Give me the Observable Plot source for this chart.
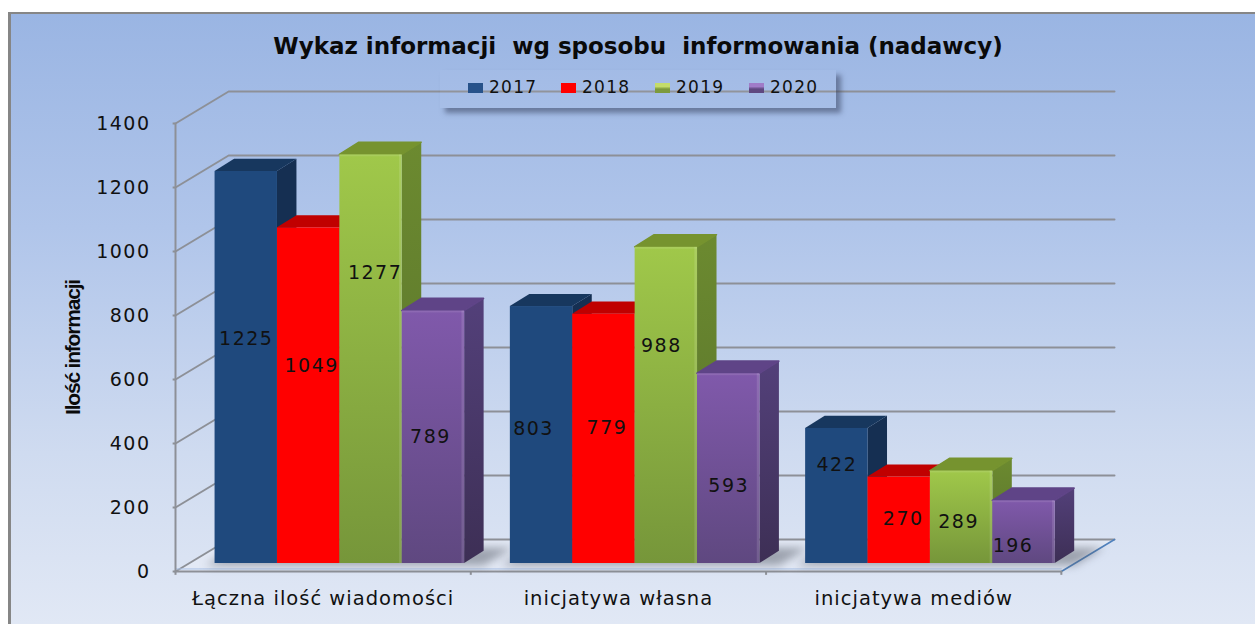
<!DOCTYPE html>
<html lang="pl">
<head>
<meta charset="utf-8">
<title>Wykaz informacji</title>
<script src="https://cdn.jsdelivr.net/npm/d3@7"></script>
<script src="https://cdn.jsdelivr.net/npm/@observablehq/plot@0.6"></script>
<style>
  html, body { margin: 0; padding: 0; background: #fff; width: 1255px; height: 624px; overflow: hidden; }
  #panel { position: absolute; left: 8px; top: 12px; right: 0; bottom: 0; box-sizing: border-box;
    border-left: 3px solid #868686; border-top: 2px solid #868686;
    background: linear-gradient(#9ab5e3 0%, #b0c5ea 35%, #cfdbf0 72%, #e1e8f5 100%); }
  #chart { position: absolute; left: 0; top: 0; }
  #chart svg { display: block; background: transparent; }
  #legend { position: absolute; left: 440px; top: 70px; width: 396px; height: 38px; box-sizing: border-box;
    background: rgba(255,255,255,.04); box-shadow: 5px 5px 5px rgba(45,55,85,.5);
    font: 17px "DejaVu Sans", sans-serif; color: #111; }
  #legend .it { position: absolute; top: 7px; display: flex; align-items: center; gap: 6px; line-height: 20px; letter-spacing: 1.3px; }
  #legend i { display: block; width: 15px; height: 10px; margin-top: 2px; }
  g[aria-label="y-axis tick label"] text { letter-spacing: 1.5px; }
</style>
</head>
<body>
<svg width="0" height="0" style="position:absolute">
  <defs>
    <linearGradient id="g19" x1="0" y1="0" x2="0" y2="1"><stop offset="0" stop-color="#a0c84a"/><stop offset="1" stop-color="#76963a"/></linearGradient>
    <linearGradient id="g20" x1="0" y1="0" x2="0" y2="1"><stop offset="0" stop-color="#8059ab"/><stop offset="1" stop-color="#5f4880"/></linearGradient>
    <linearGradient id="s19" x1="0" y1="0" x2="0" y2="1"><stop offset="0" stop-color="#6c8a30"/><stop offset="1" stop-color="#56702a"/></linearGradient>
    <linearGradient id="s20" x1="0" y1="0" x2="0" y2="1"><stop offset="0" stop-color="#53407a"/><stop offset="1" stop-color="#3d2f55"/></linearGradient>
  </defs>
</svg>
<div id="panel"></div>
<div id="chart"></div>
<div id="legend"></div>
<script>
const chartTitle = "Wykaz informacji  wg sposobu  informowania (nadawcy)";
const yTitle = "Ilość informacji";
const categories = ["Łączna ilość wiadomości", "inicjatywa własna", "inicjatywa mediów"];
const years = ["2017", "2018", "2019", "2020"];
const values2017 = [1225, 803, 422];
const values2018 = [1049, 779, 270];
const values2019 = [1277, 988, 289];
const values2020 = [789, 593, 196];
const yTicks = [0, 200, 400, 600, 800, 1000, 1200, 1400];

const series = [values2017, values2018, values2019, values2020];

// Appearance of each series: front, top and side faces
const looks = [
  {front: "#1f497d", top: "#17375e", side: "#152f52", key: "#27528a"},
  {front: "#ff0000", top: "#c00000", side: "#a00000", key: "#ff0000"},
  {front: "url(#g19)", top: "#76932f", side: "url(#s19)", key: "linear-gradient(#c4dc6a 0 35%,#7d9a3c 60%)"},
  {front: "url(#g20)", top: "#5f4487", side: "url(#s20)", key: "linear-gradient(#a07cc8 0 35%,#5f4880 60%)"}
];
// Hand placement of the value labels relative to the bar middle, [dx, dy] px, by category then series
const labelNudge = [
  [[0, -29], [3, -30], [4, -86], [-3, 0]],
  [[-8, -6], [3, -11], [-5, -60], [0, 17]],
  [[0, -31], [4, -1], [-3, 5], [-11, 14]]
];

// 3D projection, in data units
const wallX = 0.18, wallY = 100;     // depth of the chart box
const barLift = 25, barShift = 0.134; // how far behind the front edge bars stand
const barW = 0.2113;                 // width of one bar in category units
const depthX = 0.066, depthY = 38;   // depth of a bar

const bars = categories.flatMap((c, ci) => series.map((vals, si) => {
  const x1 = ci + barShift + si * barW;
  return {ci, si, v: vals[ci], x1, x2: x1 + barW, y1: barLift, y2: vals[ci] + barLift};
}));

const grey = "#8d9097";
const area = (pts, o) => Plot.area(pts, {x1: "x1", y1: "y1", x2: "x2", y2: "y2", ...o});

const gridMarks = yTicks.map(t => Plot.line(
  [[0, t], [wallX, t + wallY], [3 + wallX, t + wallY]],
  {stroke: grey, strokeWidth: 2}
));

const shadowMarks = categories.map((c, ci) => {
  const a = ci + barShift - 0.03, b = ci + barShift + 4 * barW + depthX;
  return area(
    [{x1: a, x2: b, y1: barLift - 8, y2: barLift - 8},
     {x1: a + 0.1, x2: b + 0.1, y1: barLift + 48, y2: barLift + 48}],
    {fill: "#565b68", fillOpacity: 0.5, imageFilter: "blur(4px)"}
  );
});

const barMarks = bars.flatMap(b => {
  const look = looks[b.si];
  const rounded = b.si >= 2 ? {stroke: look.top, strokeWidth: 1.5, strokeLinejoin: "round"} : {};
  const marks = [
    area(
      [{x1: b.x2, x2: b.x2, y1: b.y1, y2: b.y2},
       {x1: b.x2 + depthX, x2: b.x2 + depthX, y1: b.y1 + depthY, y2: b.y2 + depthY}],
      {fill: look.side}
    ),
    area(
      [{x1: b.x1, x2: b.x2, y1: b.y2, y2: b.y2},
       {x1: b.x1 + depthX, x2: b.x2 + depthX, y1: b.y2 + depthY, y2: b.y2 + depthY}],
      {fill: look.top, ...rounded}
    ),
    Plot.rect([b], {x1: "x1", x2: "x2", y1: "y1", y2: "y2", fill: look.front})
  ];
  if (b.si >= 2) {
    marks.push(Plot.rect([b], {x1: d => d.x2 - 0.009, x2: "x2", y1: "y1", y2: "y2", fill: "#fff", fillOpacity: 0.12}));
    marks.push(Plot.rect([b], {x1: "x1", x2: "x2", y1: d => d.y2 - 6, y2: "y2", fill: "#fff", fillOpacity: 0.1}));
  }
  return marks;
});

const labelMarks = bars.map(b => Plot.text([b], {
  x: d => (d.x1 + d.x2) / 2,
  y: d => d.v / 2 + barLift,
  text: d => `${d.v}`,
  dx: labelNudge[b.ci][b.si][0],
  dy: labelNudge[b.ci][b.si][1],
  fontFamily: "DejaVu Sans, sans-serif", fontSize: 19, fill: "#111"
}));

const plot = Plot.plot({
  width: 1255, height: 624,
  marginLeft: 175, marginRight: 141, marginTop: 91, marginBottom: 53,
  style: {background: "transparent", overflow: "visible"},
  x: {type: "linear", domain: [0, 3 + wallX], axis: null},
  y: {type: "linear", domain: [0, 1500], axis: null},
  marks: [
    area(
      [{x1: 0, x2: 3, y1: 0, y2: 0}, {x1: wallX, x2: 3 + wallX, y1: wallY, y2: wallY}],
      {fill: "#e6ebf6", fillOpacity: 0.75}
    ),
    ...gridMarks,
    Plot.line([[3, 0], [3 + wallX, wallY]], {stroke: "#4f81bd", strokeWidth: 1.5}),
    Plot.line([[0, 8], [3, 8]], {stroke: "#a9c0e4", strokeWidth: 1}),
    Plot.line([[0, 0], [0, 1400]], {stroke: grey, strokeWidth: 2}),
    Plot.line([[0, 0], [3, 0]], {stroke: grey, strokeWidth: 2}),
    Plot.ruleX([0, 1, 2, 3], {y1: 0, y2: -12, stroke: grey, strokeWidth: 2}),
    Plot.ruleY(yTicks, {x1: -0.008, x2: 0, stroke: grey, strokeWidth: 2}),
    ...shadowMarks,
    ...barMarks,
    ...labelMarks,
    Plot.axisY({
      ticks: yTicks, tickSize: 0, tickPadding: 25, anchor: "left", label: null,
      tickFormat: d => `${d}`, fontSize: 19, fontFamily: "DejaVu Sans, sans-serif", color: "#111"
    }),
    Plot.text(categories, {
      x: (d, i) => i + 0.5, y: () => 0, dy: 27, text: d => d,
      fontFamily: "DejaVu Sans, sans-serif", fontSize: 19.5, fill: "#111"
    }),
    Plot.text([chartTitle], {
      frameAnchor: "top", dx: -7, dy: -54, text: d => d,
      fontFamily: "DejaVu Sans, sans-serif", fontWeight: "bold", fontSize: 23, fill: "#0a0a0a"
    }),
    Plot.text([yTitle], {
      frameAnchor: "left", y: () => 700, dx: -102, rotate: -90, textAnchor: "middle", text: d => d,
      fontFamily: "Liberation Sans, sans-serif", fontWeight: "bold", fontSize: 21, fill: "#0a0a0a"
    })
  ]
});
document.getElementById("chart").appendChild(plot);

// The reference's text is stretched sideways, so widen the DejaVu labels with tracking
const valueLabels = new Set(series.flat().map(String));
d3.select(plot).selectAll("text").each(function () {
  const t = this.textContent;
  if (categories.includes(t)) this.style.letterSpacing = "1px";
  else if (valueLabels.has(t)) this.style.letterSpacing = "1.5px";
  else if (t === yTitle) this.style.letterSpacing = "-1.2px";
});

const legend = document.getElementById("legend");
const legendLeft = [28, 121, 215, 309];
years.forEach((y, i) => {
  const it = document.createElement("div");
  it.className = "it";
  it.style.left = legendLeft[i] + "px";
  const sw = document.createElement("i");
  sw.style.background = looks[i].key;
  it.appendChild(sw);
  it.appendChild(document.createTextNode(y));
  legend.appendChild(it);
});
</script>
</body>
</html>
